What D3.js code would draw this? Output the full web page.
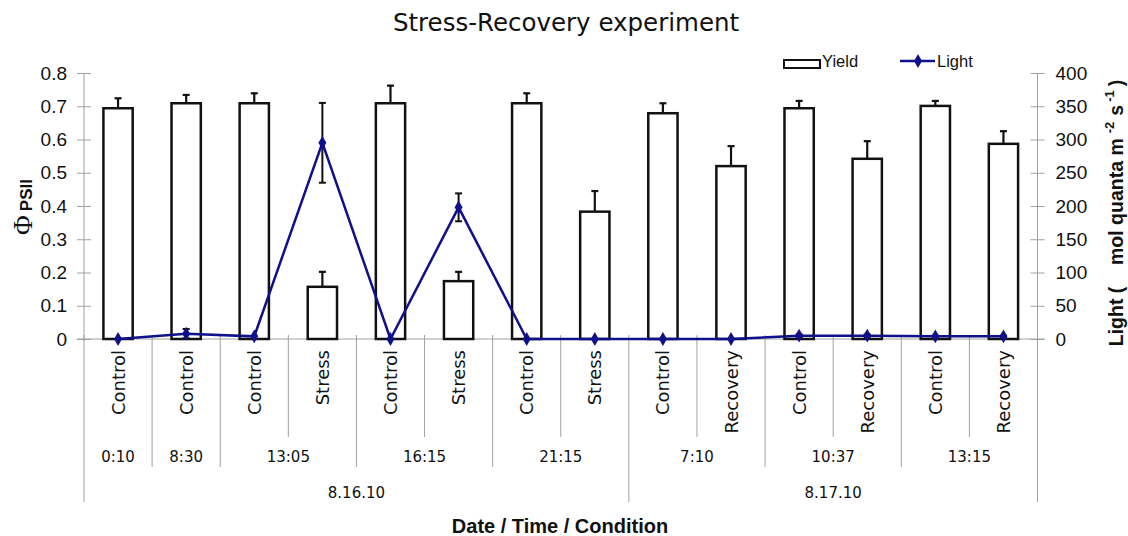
<!DOCTYPE html>
<html><head><meta charset="utf-8">
<script src="https://cdn.jsdelivr.net/npm/d3@7/dist/d3.min.js"></script>
<style>body{margin:0;background:#fff;} svg{display:block;}</style>
</head><body>
<svg id="chart" width="1128" height="536"></svg>
<script>
const categories = ["Control","Control","Control","Stress","Control","Stress","Control","Stress","Control","Recovery","Control","Recovery","Control","Recovery"];
const yieldValues = [0.694,0.709,0.709,0.157,0.709,0.174,0.709,0.383,0.679,0.520,0.694,0.542,0.701,0.587];
const yieldErrors = [0.030,0.025,0.030,0.045,0.053,0.028,0.030,0.062,0.030,0.060,0.022,0.053,0.015,0.038];
const lightValues = [0,8,4,295,0,198,0,0,0,0,5,5,4,4];
const lightErrors = [0,7,0,60,0,21,0,0,0,0,2,2,1,1];
const timeLabels = ["0:10","8:30","13:05","16:15","21:15","7:10","10:37","13:15"];
const timeGroups = [[0,0],[1,1],[2,3],[4,5],[6,7],[8,9],[10,11],[12,13]];
const dateLabels = ["8.16.10","8.17.10"];
const dateGroups = [[0,7],[8,13]];
const leftTicks = [0,0.1,0.2,0.3,0.4,0.5,0.6,0.7,0.8];
const leftTickLabels = ["0","0.1","0.2","0.3","0.4","0.5","0.6","0.7","0.8"];
const rightTicks = [0,50,100,150,200,250,300,350,400];
const rightTickLabels = ["0","50","100","150","200","250","300","350","400"];

const svg = d3.select("#chart");
const X0 = 84, X1 = 1037.5, Y0 = 339, Y1 = 73;
const idx = d3.range(categories.length);
const x = d3.scaleBand().domain(idx).range([X0, X1]).padding(0);
const yL = d3.scaleLinear().domain([0,0.8]).range([Y0,Y1]);
const yR = d3.scaleLinear().domain([0,400]).range([Y0,Y1]);
const bw = x.bandwidth();
const cx = i => x(i) + bw/2;
const gray = "#a0a0a0";
const navy = "#10108a";

// title
svg.append("text").attr("x",566).attr("y",31).attr("text-anchor","middle")
  .attr("font-family","DejaVu Sans").attr("font-size",24.5).attr("fill","#111")
  .text("Stress-Recovery experiment");

// left axis
const gL = svg.append("g").attr("transform",`translate(${X0},0)`);
gL.call(d3.axisLeft(yL).tickValues(leftTicks).tickFormat((d,i)=>leftTickLabels[i]).tickSize(7).tickPadding(10));
gL.selectAll(".tick line").clone().attr("x2",7);
// right axis
const gR = svg.append("g").attr("transform",`translate(${X1},0)`);
gR.call(d3.axisRight(yR).tickValues(rightTicks).tickFormat((d,i)=>rightTickLabels[i]).tickSize(7).tickPadding(11));
gR.selectAll(".tick line").clone().attr("x2",-7);
[gL,gR].forEach(g=>{
  g.select(".domain").attr("stroke",gray).attr("d", `M0,${Y1}V${Y0+2}`);
  g.selectAll(".tick line").attr("stroke",gray);
  g.selectAll(".tick text").attr("font-family","Liberation Sans, Arial").attr("font-size",19).attr("fill","#111");
});

// bottom axis line
svg.append("line").attr("x1",X0-7).attr("x2",X1+7).attr("y1",Y0).attr("y2",Y0).attr("stroke",gray);

// separators
for (let k=0;k<=categories.length;k++){
  let yb = 437;
  const isDate = dateGroups.some(g=>g[0]===k) || k===categories.length;
  const isTime = timeGroups.some(g=>g[0]===k);
  if (isDate) yb = 502; else if (isTime) yb = 467;
  const xx = k===categories.length ? X1 : x(k);
  svg.append("line").attr("x1",xx).attr("x2",xx).attr("y1",Y0-4).attr("y2",yb).attr("stroke",gray);
}

// category labels
svg.append("g").selectAll("text").data(idx).join("text")
  .attr("transform",i=>`translate(${cx(i)},350) rotate(-90)`)
  .attr("text-anchor","end").attr("dy","0.36em")
  .attr("font-family","DejaVu Sans").attr("font-size",18).attr("fill","#111")
  .text(i=>categories[i]);

// time labels
svg.append("g").selectAll("text").data(timeGroups).join("text")
  .attr("x",g=>(x(g[0])+x(g[1])+bw)/2).attr("y",462).attr("text-anchor","middle")
  .attr("font-family","DejaVu Sans").attr("font-size",15).attr("fill","#111")
  .text((g,i)=>timeLabels[i]);
// date labels
svg.append("g").selectAll("text").data(dateGroups).join("text")
  .attr("x",g=>(x(g[0])+x(g[1])+bw)/2).attr("y",498).attr("text-anchor","middle")
  .attr("font-family","DejaVu Sans").attr("font-size",15).attr("fill","#111")
  .text((g,i)=>dateLabels[i]);

// axis titles
svg.append("text").attr("x",560).attr("y",533).attr("text-anchor","middle")
  .attr("font-family","Liberation Sans, Arial").attr("font-weight","bold").attr("font-size",20).attr("fill","#111")
  .text("Date / Time / Condition");

const lt = svg.append("text").attr("transform","translate(32,207) rotate(-90)").attr("text-anchor","middle").attr("fill","#111");
lt.append("tspan").attr("font-family","Liberation Serif, DejaVu Serif").attr("font-size",27).text("Φ");
lt.append("tspan").attr("font-family","Liberation Sans, Arial").attr("font-weight","bold").attr("font-size",17).attr("dx",4).text("PSII");

const rt = svg.append("text").attr("transform","translate(1123,213) rotate(-90)").attr("text-anchor","middle")
  .attr("font-family","Liberation Sans, Arial").attr("font-weight","bold").attr("font-size",19.5).attr("fill","#111")
  .style("white-space","pre");
rt.append("tspan").text("Light (    mol quanta m");
rt.append("tspan").attr("font-size",13).attr("dx",5).attr("dy",-9).text("-2");
rt.append("tspan").attr("dy",9).attr("dx",6).text("s");
rt.append("tspan").attr("font-size",13).attr("dx",3).attr("dy",-9).text("-1");
rt.append("tspan").attr("dy",9).attr("dx",4).text(")");

// bars
const barW = bw*0.43;
svg.append("g").selectAll("rect").data(idx).join("rect")
  .attr("x",i=>cx(i)-barW/2).attr("width",barW)
  .attr("y",i=>yL(yieldValues[i])).attr("height",i=>Y0-yL(yieldValues[i]))
  .attr("fill","#fff").attr("stroke","#111").attr("stroke-width",2.5);
// yield error bars (upper)
const eg = svg.append("g").attr("stroke","#111").attr("stroke-width",2.2);
idx.forEach(i=>{
  const yt = yL(yieldValues[i]+yieldErrors[i]), yb = yL(yieldValues[i]);
  eg.append("line").attr("x1",cx(i)).attr("x2",cx(i)).attr("y1",yt).attr("y2",yb);
  eg.append("line").attr("x1",cx(i)-3.5).attr("x2",cx(i)+3.5).attr("y1",yt).attr("y2",yt);
});

// light line
svg.append("path").datum(idx)
  .attr("d",d3.line().x(i=>cx(i)).y(i=>yR(lightValues[i])))
  .attr("fill","none").attr("stroke",navy).attr("stroke-width",2.5);
// light error bars
const lg = svg.append("g").attr("stroke","#111").attr("stroke-width",2);
idx.filter(i=>lightErrors[i]>0).forEach(i=>{
  const yt = yR(lightValues[i]+lightErrors[i]), yb = yR(Math.max(0,lightValues[i]-lightErrors[i]));
  lg.append("line").attr("x1",cx(i)).attr("x2",cx(i)).attr("y1",yt).attr("y2",yb);
  lg.append("line").attr("x1",cx(i)-3.5).attr("x2",cx(i)+3.5).attr("y1",yt).attr("y2",yt);
  lg.append("line").attr("x1",cx(i)-3.5).attr("x2",cx(i)+3.5).attr("y1",yb).attr("y2",yb);
});
const diamond = d3.symbol().type(d3.symbolDiamond).size(55);
svg.append("g").selectAll("path").data(idx).join("path")
  .attr("transform",i=>`translate(${cx(i)},${yR(lightValues[i])})`)
  .attr("d",diamond).attr("fill",navy);

// legend
const leg = svg.append("g");
leg.append("rect").attr("x",784).attr("y",60).attr("width",36).attr("height",8).attr("fill","#fff").attr("stroke","#111").attr("stroke-width",2);
leg.append("text").attr("x",822).attr("y",67).attr("font-family","Liberation Sans, Arial").attr("font-size",16.5).attr("fill","#111").text("Yield");
leg.append("line").attr("x1",900).attr("x2",935).attr("y1",61).attr("y2",61).attr("stroke",navy).attr("stroke-width",2.5);
leg.append("path").attr("transform","translate(918,61)").attr("d",diamond).attr("fill",navy);
leg.append("text").attr("x",937).attr("y",67).attr("font-family","Liberation Sans, Arial").attr("font-size",16.5).attr("fill","#111").text("Light");
</script>
</body></html>
